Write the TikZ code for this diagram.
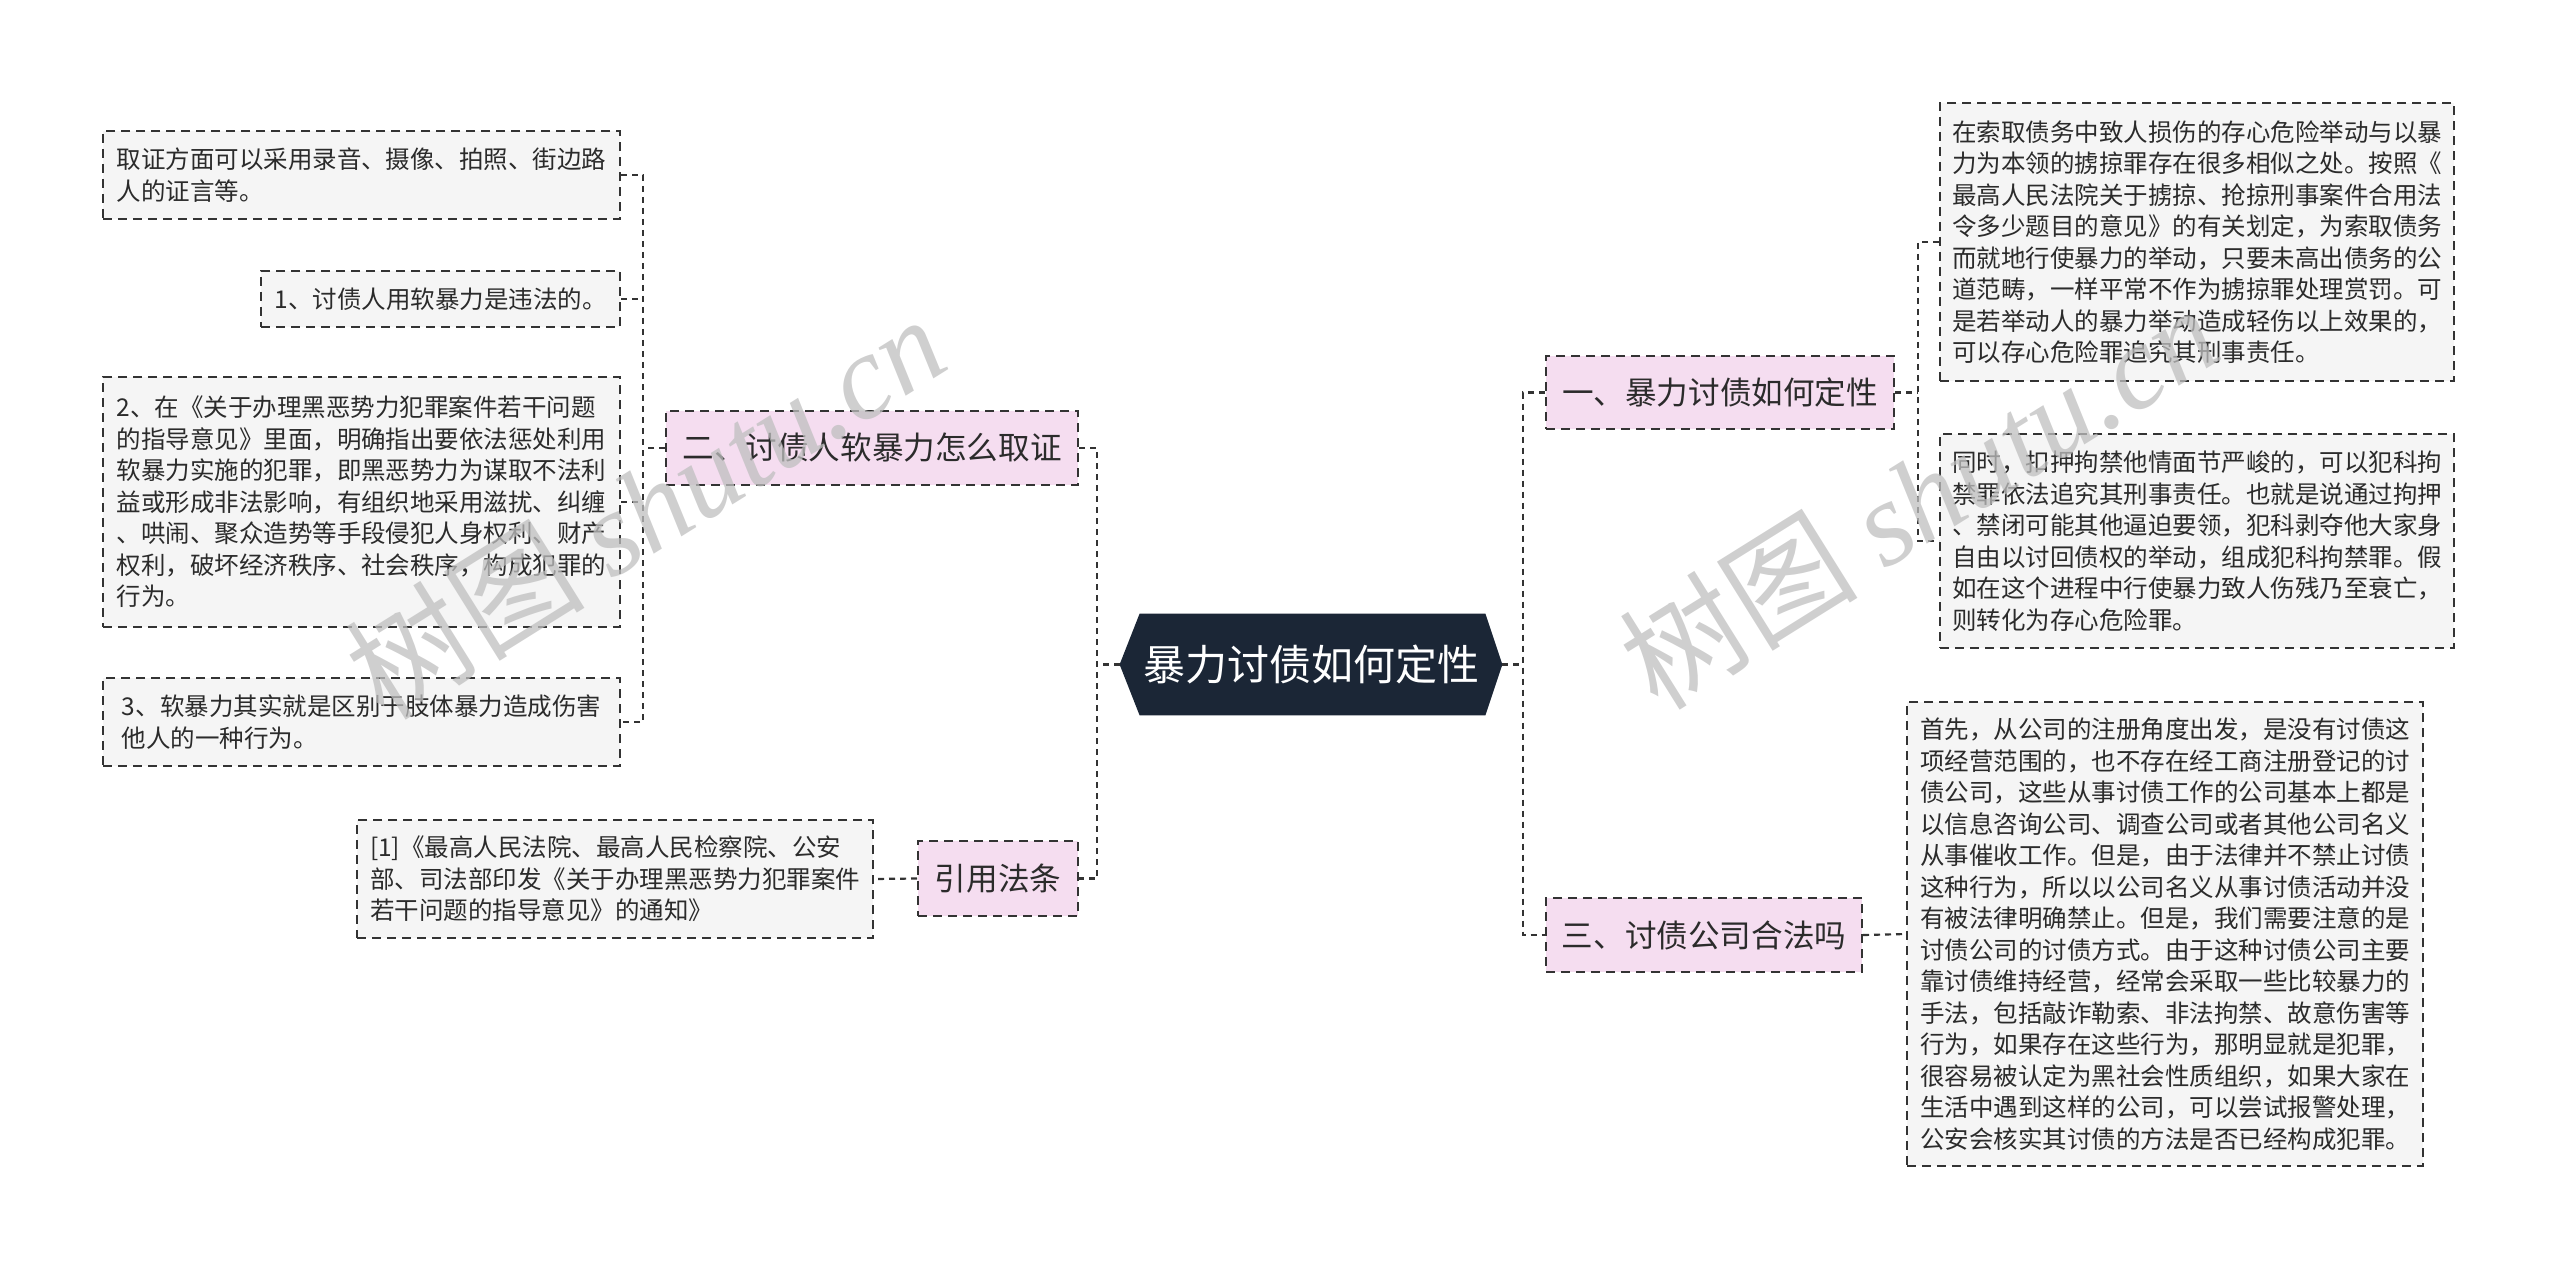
\documentclass[tikz,border=0pt]{standalone}
\usepackage{fontspec}
\setmainfont{Noto Sans CJK SC}
\newfontfamily\wmserif{Liberation Serif}
\usetikzlibrary{backgrounds}
\definecolor{navy}{HTML}{1B2636}
\definecolor{pinkfill}{HTML}{F5DDF0}
\definecolor{leaffill}{HTML}{F5F5F5}
\definecolor{linec}{HTML}{333333}
\definecolor{textc}{HTML}{2B2B2B}
\tikzset{
  leaf/.style={draw=linec, line width=1pt, dash pattern=on 4.5pt off 3pt, fill=leaffill,
    inner sep=0pt, align=left, font=\fontsize{12.25}{15.75}\selectfont, text=textc},
  branch/.style={draw=linec, line width=1pt, dash pattern=on 4.5pt off 3pt, fill=pinkfill,
    inner sep=0pt, font=\fontsize{15.8}{19}\selectfont, text=textc},
  rootbox/.style={inner sep=0pt, font=\fontsize{21}{25}\selectfont, text=white},
  conn/.style={draw=linec, line width=1.1pt, dash pattern=on 3pt off 2.5pt},
  wm/.style={text=black!25, opacity=0.75, rotate=32, font=\fontsize{60}{60}\selectfont}
}
\begin{document}
\begin{tikzpicture}[x=0.5pt,y=-0.5pt]
\useasboundingbox (0,0) rectangle (2560,1273);

% root
\node[rootbox, minimum width=191pt, minimum height=50.5pt] (root) at (1311,664.5) {暴力讨债如何定性};
\begin{scope}[on background layer]
\fill[navy] (root.west) -- ([xshift=10pt]root.north west) -- ([xshift=-8.5pt]root.north east)
  -- (root.east) -- ([xshift=-8.5pt]root.south east) -- ([xshift=10pt]root.south west) -- cycle;
\end{scope}

% left branches
\node[branch, minimum width=206pt, minimum height=37pt] (L1) at (872,448) {二、讨债人软暴力怎么取证};
\node[branch, minimum width=80pt, minimum height=37.5pt] (L2) at (998,878.5) {引用法条};

\node[leaf, minimum width=258.5pt, minimum height=44pt] (c1) at (361.5,175)
  {取证方面可以采用录音、摄像、拍照、街边路\\人的证言等。};
\node[leaf, minimum width=179.5pt, minimum height=28pt] (c2) at (440.5,299)
  {1、讨债人用软暴力是违法的。};
\node[leaf, minimum width=258.5pt, minimum height=125pt] (c3) at (361.5,502)
  {2、在《关于办理黑恶势力犯罪案件若干问题\\的指导意见》里面，明确指出要依法惩处利用\\软暴力实施的犯罪，即黑恶势力为谋取不法利\\益或形成非法影响，有组织地采用滋扰、纠缠\\、哄闹、聚众造势等手段侵犯人身权利、财产\\权利，破坏经济秩序、社会秩序，构成犯罪的\\行为。};
\node[leaf, minimum width=258.5pt, minimum height=44pt] (c4) at (361.5,722)
  {3、软暴力其实就是区别于肢体暴力造成伤害\\他人的一种行为。};
\node[leaf, minimum width=258pt, minimum height=59pt] (L2c) at (615,879)
  {[1]《最高人民法院、最高人民检察院、公安\\部、司法部印发《关于办理黑恶势力犯罪案件\\若干问题的指导意见》的通知》};

% right branches
\node[branch, minimum width=174pt, minimum height=36.5pt] (R1) at (1720,392.5) {一、暴力讨债如何定性};
\node[branch, minimum width=158pt, minimum height=37pt] (R2) at (1704,935) {三、讨债公司合法吗};

\node[leaf, minimum width=257pt, minimum height=139pt] (R1a) at (2197,242)
  {在索取债务中致人损伤的存心危险举动与以暴\\力为本领的掳掠罪存在很多相似之处。按照《\\最高人民法院关于掳掠、抢掠刑事案件合用法\\令多少题目的意见》的有关划定，为索取债务\\而就地行使暴力的举动，只要未高出债务的公\\道范畴，一样平常不作为掳掠罪处理赏罚。可\\是若举动人的暴力举动造成轻伤以上效果的，\\可以存心危险罪追究其刑事责任。};
\node[leaf, minimum width=257pt, minimum height=107pt] (R1b) at (2197,541)
  {同时，扣押拘禁他情面节严峻的，可以犯科拘\\禁罪依法追究其刑事责任。也就是说通过拘押\\、禁闭可能其他逼迫要领，犯科剥夺他大家身\\自由以讨回债权的举动，组成犯科拘禁罪。假\\如在这个进程中行使暴力致人伤残乃至衰亡，\\则转化为存心危险罪。};
\node[leaf, minimum width=258pt, minimum height=232pt] (R2c) at (2165,934)
  {首先，从公司的注册角度出发，是没有讨债这\\项经营范围的，也不存在经工商注册登记的讨\\债公司，这些从事讨债工作的公司基本上都是\\以信息咨询公司、调查公司或者其他公司名义\\从事催收工作。但是，由于法律并不禁止讨债\\这种行为，所以以公司名义从事讨债活动并没\\有被法律明确禁止。但是，我们需要注意的是\\讨债公司的讨债方式。由于这种讨债公司主要\\靠讨债维持经营，经常会采取一些比较暴力的\\手法，包括敲诈勒索、非法拘禁、故意伤害等\\行为，如果存在这些行为，那明显就是犯罪，\\很容易被认定为黑社会性质组织，如果大家在\\生活中遇到这样的公司，可以尝试报警处理，\\公安会核实其讨债的方法是否已经构成犯罪。};

% junctions
\coordinate (lt) at (1097,664.5);
\coordinate (rt) at (1523,664.5);
\coordinate (l1j) at (643,448);
\coordinate (r1j) at (1918,392.5);

% connectors
\draw[conn] (root.west) -- (lt);
\draw[conn] (L1.east) -| (lt) |- (L2.east);
\draw[conn] (root.east) -- (rt);
\draw[conn] (R1.west) -| (rt) |- (R2.west);

\draw[conn] (L1.west) -- (l1j);
\draw[conn] (c1.east) -| (l1j) |- (c4.east);
\draw[conn] (c2.east) -- (c2.east -| l1j);
\draw[conn] (c3.east) -- (c3.east -| l1j);

\draw[conn] (L2.west) -- (L2c.east);

\draw[conn] (R1.east) -- (r1j);
\draw[conn] (R1a.west) -| (r1j) |- (R1b.west);
\draw[conn] (R2.east) -- (R2c.west);

% watermarks
\node[wm] (wm1) at (645,506) {树图 {\wmserif\itshape shutu.cn}};
\node[wm] (wm2) at (1918,496) {树图 {\wmserif\itshape shutu.cn}};
\end{tikzpicture}
\end{document}
